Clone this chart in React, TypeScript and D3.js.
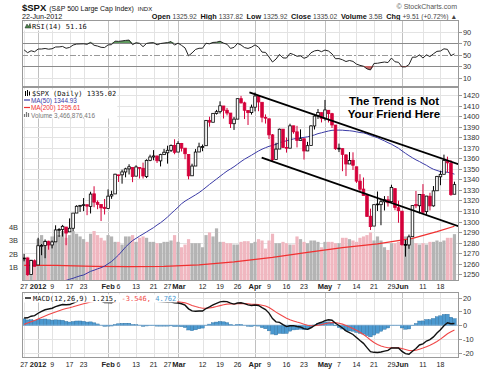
import React, { useEffect, useRef } from "react";
import * as d3 from "d3";

// closes before the visible window, only used to warm up RSI / MACD / MA(50)
const priorCloses = [
  1254.19, 1229.05, 1242.0, 1284.59, 1285.09, 1253.3,
  1218.28, 1237.9, 1261.15, 1253.23, 1261.12, 1275.92, 1229.1, 1239.69, 1263.85, 1251.78, 1257.81,
  1236.91, 1216.13, 1215.65, 1192.98, 1188.04, 1161.79, 1158.67, 1192.55, 1195.19, 1246.96,
  1244.58, 1244.28, 1257.08, 1258.47, 1261.01, 1234.35, 1255.19, 1236.47, 1225.73, 1211.82, 1215.75,
  1219.66, 1205.35, 1241.3, 1243.72, 1254.0, 1265.33,
];

const dates = [
  "12-27", "12-28", "12-29", "12-30",
  "01-03", "01-04", "01-05", "01-06", "01-09", "01-10", "01-11", "01-12", "01-13", "01-17", "01-18", "01-19", "01-20", "01-23", "01-24", "01-25", "01-26", "01-27", "01-30", "01-31",
  "02-01", "02-02", "02-03", "02-06", "02-07", "02-08", "02-09", "02-10", "02-13", "02-14", "02-15", "02-16", "02-17", "02-21", "02-22", "02-23", "02-24", "02-27", "02-28", "02-29",
  "03-01", "03-02", "03-05", "03-06", "03-07", "03-08", "03-09", "03-12", "03-13", "03-14", "03-15", "03-16", "03-19", "03-20", "03-21", "03-22", "03-23", "03-26", "03-27", "03-28", "03-29", "03-30",
  "04-02", "04-03", "04-04", "04-05", "04-09", "04-10", "04-11", "04-12", "04-13", "04-16", "04-17", "04-18", "04-19", "04-20", "04-23", "04-24", "04-25", "04-26", "04-27", "04-30",
  "05-01", "05-02", "05-03", "05-04", "05-07", "05-08", "05-09", "05-10", "05-11", "05-14", "05-15", "05-16", "05-17", "05-18", "05-21", "05-22", "05-23", "05-24", "05-25", "05-29", "05-30", "05-31",
  "06-01", "06-04", "06-05", "06-06", "06-07", "06-08", "06-11", "06-12", "06-13", "06-14", "06-15", "06-18", "06-19", "06-20", "06-21", "06-22",
];

const opens = [
  1265.02, 1265.38, 1249.75, 1262.82,
  1258.86, 1277.03, 1277.3, 1280.93, 1277.83, 1280.77, 1292.02, 1292.48, 1294.82, 1290.22, 1293.65, 1308.07, 1314.49, 1315.29, 1315.96, 1314.4, 1326.28, 1318.25, 1316.16, 1313.53,
  1312.45, 1324.24, 1326.21, 1344.32, 1344.33, 1347.04, 1349.97, 1351.21, 1343.06, 1351.3, 1350.52, 1342.61, 1358.06, 1361.22, 1362.11, 1357.53, 1363.46, 1365.2, 1367.56, 1372.2,
  1365.9, 1374.09, 1369.59, 1363.63, 1343.39, 1352.65, 1365.97, 1370.78, 1371.92, 1395.95, 1394.17, 1402.55, 1404.17, 1409.59, 1405.52, 1402.89, 1392.78, 1397.11, 1416.55, 1412.52, 1405.39, 1403.31,
  1408.47, 1418.98, 1413.09, 1398.79, 1397.45, 1382.18, 1358.98, 1368.77, 1387.61, 1370.27, 1369.57, 1390.78, 1385.08, 1376.96, 1378.53, 1366.97, 1372.11, 1390.64, 1400.19, 1403.26,
  1397.86, 1405.5, 1402.32, 1391.51, 1368.79, 1369.16, 1363.2, 1354.58, 1358.11, 1351.93, 1338.36, 1330.78, 1324.82, 1305.05, 1295.73, 1316.09, 1316.02, 1318.72, 1320.64, 1318.9, 1331.25, 1313.09,
  1309.87, 1278.29, 1277.82, 1285.61, 1316.15, 1314.99, 1325.72, 1309.4, 1324.02, 1314.88, 1329.19, 1342.42, 1344.83, 1358.04, 1355.43, 1325.92,
];

const highs = [
  1269.37, 1265.85, 1263.54, 1264.12,
  1284.62, 1278.73, 1283.05, 1281.84, 1281.99, 1296.46, 1293.8, 1296.82, 1294.82, 1303.0, 1308.11, 1315.49, 1315.38, 1322.28, 1315.96, 1328.3, 1333.47, 1320.06, 1316.16, 1321.41,
  1330.52, 1329.19, 1345.34, 1344.36, 1349.24, 1351.0, 1354.32, 1351.21, 1353.35, 1351.3, 1355.87, 1359.02, 1363.4, 1367.76, 1362.7, 1364.24, 1368.92, 1371.94, 1373.09, 1378.04,
  1376.17, 1374.53, 1369.59, 1363.63, 1354.85, 1368.72, 1374.76, 1373.04, 1396.13, 1399.42, 1402.63, 1405.88, 1414.0, 1409.59, 1407.75, 1402.89, 1399.18, 1416.58, 1419.15, 1413.65, 1405.39, 1410.89,
  1422.38, 1419.0, 1413.09, 1401.6, 1397.45, 1383.01, 1374.71, 1388.13, 1387.61, 1379.66, 1392.76, 1390.78, 1390.75, 1387.4, 1378.53, 1375.57, 1391.37, 1402.09, 1406.64, 1403.26,
  1415.32, 1405.5, 1403.07, 1391.51, 1373.91, 1369.16, 1363.73, 1365.88, 1365.66, 1351.93, 1344.94, 1341.78, 1326.36, 1312.24, 1316.39, 1328.49, 1320.71, 1324.14, 1324.2, 1334.93, 1331.25, 1319.74,
  1309.87, 1282.55, 1287.62, 1315.13, 1329.05, 1325.81, 1335.52, 1324.31, 1327.28, 1333.68, 1343.32, 1348.22, 1363.46, 1361.57, 1358.27, 1337.82,
];

const lows = [
  1262.3, 1248.64, 1249.75, 1257.46,
  1258.86, 1268.1, 1265.26, 1273.34, 1274.55, 1280.77, 1285.41, 1285.77, 1277.58, 1290.22, 1290.99, 1308.07, 1309.17, 1309.89, 1306.06, 1307.65, 1313.6, 1311.72, 1300.49, 1306.69,
  1312.45, 1321.57, 1326.21, 1337.52, 1335.92, 1341.95, 1344.63, 1337.35, 1343.06, 1340.83, 1340.8, 1341.22, 1357.24, 1358.11, 1355.53, 1352.28, 1363.46, 1354.92, 1365.97, 1363.81,
  1365.9, 1366.42, 1359.13, 1340.03, 1343.39, 1352.65, 1365.97, 1366.69, 1371.92, 1389.97, 1394.17, 1401.47, 1402.43, 1397.68, 1400.64, 1388.73, 1386.87, 1397.11, 1411.95, 1397.2, 1391.56, 1401.42,
  1404.46, 1404.62, 1394.09, 1392.92, 1378.24, 1357.38, 1358.98, 1368.77, 1369.85, 1365.38, 1369.57, 1383.29, 1370.3, 1376.96, 1358.79, 1366.82, 1372.11, 1387.28, 1397.31, 1394.0,
  1395.73, 1393.92, 1388.71, 1367.96, 1365.88, 1347.75, 1343.13, 1354.58, 1348.89, 1336.61, 1328.41, 1324.79, 1304.86, 1291.98, 1295.73, 1310.04, 1296.53, 1310.5, 1314.23, 1318.9, 1310.76, 1298.9,
  1277.25, 1266.74, 1274.16, 1285.61, 1312.68, 1307.77, 1307.73, 1306.62, 1310.51, 1314.14, 1329.19, 1334.46, 1344.83, 1346.45, 1324.41, 1325.92,
];

const closes = [
  1265.43, 1249.64, 1263.02, 1257.6,
  1277.06, 1277.3, 1281.06, 1277.81, 1280.7, 1292.08, 1292.48, 1295.5, 1289.09, 1293.67, 1308.04, 1314.5, 1315.38, 1316.0, 1314.65, 1326.06, 1318.43, 1316.33, 1313.01, 1312.41,
  1324.09, 1325.54, 1344.9, 1344.33, 1347.05, 1349.96, 1351.95, 1342.64, 1351.77, 1350.5, 1343.23, 1358.04, 1361.23, 1362.21, 1357.66, 1363.46, 1365.74, 1367.59, 1372.18, 1365.68,
  1374.09, 1369.63, 1364.33, 1343.36, 1352.63, 1365.91, 1370.87, 1371.09, 1395.95, 1394.28, 1402.6, 1404.17, 1409.75, 1405.52, 1402.89, 1392.78, 1397.11, 1416.51, 1412.52, 1405.54, 1403.28, 1408.47,
  1419.04, 1413.38, 1398.96, 1398.08, 1382.2, 1358.59, 1368.71, 1387.57, 1370.26, 1369.57, 1390.78, 1385.14, 1376.92, 1378.53, 1366.94, 1371.97, 1390.69, 1399.98, 1403.36, 1397.91,
  1405.82, 1402.31, 1391.57, 1369.1, 1369.58, 1363.72, 1354.58, 1357.99, 1353.39, 1338.35, 1330.66, 1324.8, 1304.86, 1295.22, 1315.99, 1316.63, 1318.86, 1320.68, 1317.82, 1332.42, 1313.32, 1310.33,
  1278.04, 1278.18, 1285.5, 1315.13, 1314.99, 1325.66, 1308.93, 1324.18, 1314.88, 1329.1, 1342.84, 1344.78, 1357.98, 1355.69, 1325.51, 1335.02,
];

// billions of shares
const volumes = [
  1.7, 1.8, 1.6, 1.5,
  3.1, 3.4, 3.0, 3.0, 3.3, 3.4, 3.4, 3.7, 3.2, 3.4, 3.7, 3.5, 3.3, 3.1, 2.9, 3.5, 3.7, 3.4, 3.2, 3.0,
  3.4, 3.3, 2.9, 2.9, 2.7, 3.3, 3.3, 3.4, 2.9, 3.2, 3.3, 3.2, 2.9, 2.9, 2.8, 2.8, 2.9, 2.9, 3.0, 3.4,
  2.9, 2.5, 2.7, 3.1, 2.8, 2.8, 2.8, 2.5, 3.4, 3.6, 3.3, 3.9, 2.9, 2.9, 2.8, 2.8, 2.7, 2.7, 2.9, 2.95, 2.95, 2.8,
  2.9, 3.1, 3.0, 2.4, 3.0, 3.5, 2.8, 2.8, 2.9, 2.8, 2.7, 2.7, 3.3, 3.1, 2.9, 2.8, 3.0, 3.0, 2.9, 2.5,
  2.9, 2.9, 2.9, 2.8, 2.8, 3.2, 3.2, 3.1, 3.0, 2.9, 3.2, 3.3, 3.4, 3.6, 3.0, 3.3, 3.0, 2.5, 2.3, 2.8, 2.8, 2.9,
  3.3, 3.3, 3.3, 3.2, 2.8, 2.7, 2.8, 2.7, 2.9, 2.9, 3.0, 2.9, 3.0, 3.2, 3.2, 3.47,
];

// MA(200) at a few sessions
const ma200Days = ["12-27", "01-10", "01-26", "02-09", "02-24", "03-09", "03-23", "04-10", "04-24", "05-08", "05-22", "06-06", "06-15", "06-22"];
const ma200Values = [1258.5, 1258.4, 1257.6, 1257.2, 1257.5, 1259.0, 1261.8, 1266.0, 1270.8, 1275.3, 1278.8, 1284.0, 1290.5, 1295.6];

const tickDates = ["12-27", "01-03", "01-09", "01-17", "01-23", "02-01", "02-06", "02-13", "02-21", "02-27", "03-01", "03-12", "03-19", "03-26", "04-02", "04-09", "04-16", "04-23", "05-01", "05-07", "05-14", "05-21", "05-29", "06-01", "06-11", "06-18"];
const tickLabels = ["27", "2012", "9", "17", "23", "Feb", "6", "13", "21", "27", "Mar", "12", "19", "26", "Apr", "9", "16", "23", "May", "7", "14", "21", "29", "Jun", "11", "18"];
const majorTicks = ["2012", "Feb", "Mar", "Apr", "May", "Jun"];

const rsiTicks = [90, 70, 50, 30, 10];
const priceTicks = d3.range(1250, 1421, 10);
const volumeTicks = [1, 2, 3, 4];
const macdTicks = [20, 10, 0, -10, -20];

// trend channel drawn on the chart: [session number, price]
const upperTrend = [[64.4, 1422.5], [124.3, 1354.2]];
const lowerTrend = [[67.9, 1360.6], [124.3, 1295.4]];

const W = 489;
const H = 371;
const LEFT = 22;
const RIGHT = 459;
const rsiBox = { top: 20, bottom: 87 };
const priceBox = { top: 87, bottom: 281 };
const macdBox = { top: 292, bottom: 358 };

const SANS = "'Liberation Sans', Arial, sans-serif";
const MONO = "'DejaVu Sans Mono', monospace";
const RED = "#d4003a";
const GRID = "#e3e3e3";

function ema(values: number[], period: number) {
  const k = 2 / (period + 1);
  let e = values[0];
  return values.map((v, i) => (e = i === 0 ? v : v * k + e * (1 - k)));
}

function rsiSeries(values: number[], period: number) {
  const out = values.map(() => NaN);
  let gain = 0, loss = 0;
  for (let i = 1; i <= period; i++) {
    const d = values[i] - values[i - 1];
    if (d > 0) gain += d; else loss -= d;
  }
  gain /= period;
  loss /= period;
  out[period] = 100 - 100 / (1 + gain / loss);
  for (let i = period + 1; i < values.length; i++) {
    const d = values[i] - values[i - 1];
    gain = (gain * (period - 1) + Math.max(d, 0)) / period;
    loss = (loss * (period - 1) + Math.max(-d, 0)) / period;
    out[i] = 100 - 100 / (1 + gain / loss);
  }
  return out;
}

function panel(svg: any, id: string, box: { top: number; bottom: number }) {
  svg.append("clipPath").attr("id", id)
    .append("rect")
    .attr("x", LEFT).attr("y", box.top)
    .attr("width", RIGHT - LEFT).attr("height", box.bottom - box.top);
  svg.append("rect")
    .attr("x", LEFT).attr("y", box.top)
    .attr("width", RIGHT - LEFT).attr("height", box.bottom - box.top)
    .attr("fill", "#fff");
  return svg.append("g").attr("clip-path", `url(#${id})`);
}

function border(svg: any, box: { top: number; bottom: number }) {
  svg.append("rect")
    .attr("x", LEFT + 0.5).attr("y", box.top + 0.5)
    .attr("width", RIGHT - LEFT - 1).attr("height", box.bottom - box.top - 1)
    .attr("fill", "none").attr("stroke", "#999");
}

function verticalGrid(g: any, x: any, box: { top: number; bottom: number }) {
  tickDates.forEach((d, k) => {
    const xx = Math.round(x(dates.indexOf(d))) + 0.5;
    g.append("line")
      .attr("x1", xx).attr("x2", xx)
      .attr("y1", box.top).attr("y2", box.bottom)
      .attr("stroke", majorTicks.includes(tickLabels[k]) ? "#c0c0c0" : GRID);
  });
}

function horizontalGrid(g: any, y: any, ticks: number[], color = GRID) {
  ticks.forEach(t => {
    const yy = Math.round(y(t)) + 0.5;
    g.append("line").attr("x1", LEFT).attr("x2", RIGHT)
      .attr("y1", yy).attr("y2", yy).attr("stroke", color);
  });
}

function rightAxis(svg: any, y: any, ticks: number[]) {
  ticks.forEach(t => {
    const yy = Math.round(y(t)) + 0.5;
    svg.append("line").attr("x1", RIGHT).attr("x2", RIGHT + 3)
      .attr("y1", yy).attr("y2", yy).attr("stroke", "#999");
    svg.append("text").attr("x", RIGHT + 4).attr("y", yy + 2.6)
      .attr("font-family", SANS).attr("font-size", 7.4).attr("fill", "#333")
      .text(t);
  });
}

function dateAxis(svg: any, x: any, baseline: number) {
  tickDates.forEach((d, k) => {
    const bold = majorTicks.includes(tickLabels[k]);
    svg.append("text")
      .attr("x", x(dates.indexOf(d)) + (tickLabels[k] === "Mar" ? 1 : 0))
      .attr("y", baseline)
      .attr("text-anchor", "middle")
      .attr("font-family", SANS).attr("font-size", bold ? 7.5 : 7)
      .attr("font-weight", bold ? "bold" : "normal")
      .attr("fill", "#222")
      .text(tickLabels[k]);
  });
}

function legendBackground(g: any) {
  const b = g.node().getBBox();
  g.insert("rect", ":first-child")
    .attr("x", b.x - 1).attr("y", b.y)
    .attr("width", b.width + 2).attr("height", b.height)
    .attr("fill", "#fff");
}

function drawHeader(svg: any) {
  const head = svg.append("text").attr("x", LEFT).attr("y", 11).attr("font-family", SANS).attr("fill", "#111");
  head.append("tspan").attr("font-size", 9.5).attr("font-weight", "bold").text("$SPX");
  head.append("tspan").attr("font-size", 6.9).attr("dx", 3).text("(S&P 500 Large Cap Index)");
  head.append("tspan").attr("font-size", 6).attr("dx", 4).text("INDX");

  svg.append("text").attr("x", RIGHT - 2).attr("y", 9).attr("text-anchor", "end")
    .attr("font-family", SANS).attr("font-size", 7).attr("fill", "#555")
    .text("© StockCharts.com");

  svg.append("text").attr("x", LEFT).attr("y", 18.5)
    .attr("font-family", SANS).attr("font-size", 7.2).attr("fill", "#111")
    .text("22-Jun-2012");

  const parts: [string, boolean][] = [
    ["Open ", true], ["1325.92  ", false], ["High ", true], ["1337.82  ", false],
    ["Low ", true], ["1325.92  ", false], ["Close ", true], ["1335.02  ", false],
    ["Volume ", true], ["3.5B  ", false], ["Chg ", true], ["+9.51 (+0.72%) ▲", false],
  ];
  const info = svg.append("text").attr("x", RIGHT - 2).attr("y", 18.5).attr("text-anchor", "end")
    .attr("font-family", SANS).attr("fill", "#111").attr("xml:space", "preserve");
  parts.forEach(([s, b]) => {
    info.append("tspan").attr("font-size", b ? 7.3 : 6.7).attr("font-weight", b ? "bold" : "normal")
      .attr("fill", b ? "#111" : "#444").text(s);
  });
}

function draw(node: SVGSVGElement) {
  const svg = d3.select(node);
  svg.selectAll("*").remove();
  const n = closes.length;
  const at = (d: string) => dates.indexOf(d);

  const x = d3.scaleLinear().domain([-0.6, n + 0.3]).range([LEFT, RIGHT]);
  const yRsi = d3.scaleLinear().domain([0, 100]).range([83.3, 25.8]);
  const yPrice = d3.scaleLinear().domain([1250, 1420]).range([274.3, 95]);
  const yVol = d3.scaleLinear().domain([0, 4]).range([priceBox.bottom, priceBox.bottom - 54]);
  const yMacd = d3.scaleLinear().domain([-20, 20]).range([352.7, 297.7]);

  const all = priorCloses.concat(closes);
  const off = priorCloses.length;
  const rsi = rsiSeries(all, 14).slice(off);
  const ma50 = all.map((_, i) => (i >= 49 ? d3.mean(all.slice(i - 49, i + 1)) as number : NaN)).slice(off);
  const e12 = ema(all, 12);
  const e26 = ema(all, 26);
  const macdAll = all.map((_, i) => e12[i] - e26[i]);
  const signalAll = ema(macdAll, 9);
  const macd = macdAll.slice(off);
  const signal = signalAll.slice(off);
  const hist = macd.map((m, i) => m - signal[i]);
  const idx = d3.range(n);

  drawHeader(svg);

  // ---- RSI panel
  const rg = panel(svg, "clip-rsi", rsiBox);
  verticalGrid(rg, x, rsiBox);
  horizontalGrid(rg, yRsi, [90, 10]);
  horizontalGrid(rg, yRsi, [70, 30], "#8a8a8a");
  rg.append("line").attr("x1", LEFT).attr("x2", RIGHT)
    .attr("y1", Math.round(yRsi(50)) + 0.5).attr("y2", Math.round(yRsi(50)) + 0.5)
    .attr("stroke", "#999").attr("stroke-dasharray", "6,2,2,2");
  rg.append("path").datum(idx)
    .attr("fill", "#5f9a5f")
    .attr("d", d3.area<number>().x(i => x(i)).y0(yRsi(70)).y1(i => yRsi(Math.max(rsi[i], 70))));
  rg.append("path").datum(idx)
    .attr("fill", "#c46464")
    .attr("d", d3.area<number>().x(i => x(i)).y0(yRsi(30)).y1(i => yRsi(Math.min(rsi[i], 30))));
  rg.append("path").datum(idx)
    .attr("fill", "none").attr("stroke", "#222").attr("stroke-width", 1)
    .attr("d", d3.line<number>().x(i => x(i)).y(i => yRsi(rsi[i])));
  border(svg, rsiBox);
  rightAxis(svg, yRsi, rsiTicks);
  const rl = svg.append("g");
  rl.append("path").attr("d", "M25,28 L27,24 L28.5,26.5 L30,23.5 L31,28 Z").attr("fill", "#4d8a4d").attr("stroke", "#222").attr("stroke-width", 0.5);
  rl.append("text").attr("x", 32).attr("y", 28.5)
    .attr("font-family", MONO).attr("font-size", 7).attr("fill", "#111")
    .text("RSI(14) 51.16");
  legendBackground(rl);

  // ---- price panel
  const pg = panel(svg, "clip-price", priceBox);
  verticalGrid(pg, x, priceBox);
  horizontalGrid(pg, yPrice, priceTicks);

  pg.append("g").selectAll("rect").data(idx).enter().append("rect")
    .attr("x", i => x(i) - 1.6).attr("width", 3.2)
    .attr("y", i => yVol(volumes[i]))
    .attr("height", i => yVol(0) - yVol(volumes[i]))
    .attr("fill", i => (i > 0 && closes[i] < closes[i - 1] ? "#f0b7c0" : "#b4b4b4"));

  pg.append("path").datum(ma200Days.map((d, k) => [at(d), ma200Values[k]]))
    .attr("fill", "none").attr("stroke", "#f03030").attr("stroke-width", 1.2)
    .attr("d", d3.line<number[]>().x(p => x(p[0])).y(p => yPrice(p[1])));
  pg.append("path").datum(idx.filter(i => !isNaN(ma50[i])))
    .attr("fill", "none").attr("stroke", "#3a3aa6").attr("stroke-width", 1)
    .attr("d", d3.line<number>().x(i => x(i)).y(i => yPrice(ma50[i])));

  const candle = pg.append("g").selectAll("g").data(idx).enter().append("g");
  const color = (i: number) => (i > 0 && closes[i] < closes[i - 1] ? RED : "#000");
  candle.append("line")
    .attr("x1", i => x(i)).attr("x2", i => x(i))
    .attr("y1", i => yPrice(highs[i])).attr("y2", i => yPrice(lows[i]))
    .attr("stroke", color).attr("stroke-width", 1);
  candle.append("rect")
    .attr("x", i => x(i) - 1.3).attr("width", 2.6)
    .attr("y", i => yPrice(Math.max(opens[i], closes[i])))
    .attr("height", i => Math.max(0.8, Math.abs(yPrice(opens[i]) - yPrice(closes[i]))))
    .attr("fill", i => (closes[i] >= opens[i] ? "#fff" : color(i)))
    .attr("stroke", color).attr("stroke-width", 0.8);

  [upperTrend, lowerTrend].forEach(t => {
    pg.append("path").datum(t)
      .attr("fill", "none").attr("stroke", "#000").attr("stroke-width", 1.8)
      .attr("d", d3.line<number[]>().x(p => x(p[0])).y(p => yPrice(p[1])));
  });

  const note = pg.append("text").attr("text-anchor", "middle")
    .attr("font-family", SANS).attr("font-size", 11.5).attr("font-weight", "bold").attr("fill", "#000");
  note.append("tspan").attr("x", 394).attr("y", 104.5).text("The Trend is Not");
  note.append("tspan").attr("x", 394).attr("y", 117.5).text("Your Friend Here");

  border(svg, priceBox);
  rightAxis(svg, yPrice, priceTicks);
  volumeTicks.forEach(v => {
    svg.append("text").attr("x", 9).attr("y", yVol(v) + 2.6)
      .attr("font-family", SANS).attr("font-size", 7.4).attr("fill", "#333")
      .text(`${v}B`);
  });

  const pl = svg.append("g");
  pl.append("path").attr("d", "M25.5,91 v5 M27.5,90 v6 M29.5,91.5 v4").attr("stroke", "#000").attr("stroke-width", 1);
  pl.append("text").attr("x", 32).attr("y", 95.5)
    .attr("font-family", MONO).attr("font-size", 7).attr("fill", "#111").text("$SPX (Daily) 1335.02");
  pl.append("line").attr("x1", 24).attr("x2", 30).attr("y1", 100).attr("y2", 100).attr("stroke", "#3a3aa6").attr("stroke-width", 1.2);
  pl.append("text").attr("x", 31).attr("y", 102.5)
    .attr("font-family", SANS).attr("font-size", 6.4).attr("fill", "#3a3aa6").text("MA(50) 1344.93");
  pl.append("line").attr("x1", 24).attr("x2", 30).attr("y1", 107.5).attr("y2", 107.5).attr("stroke", "#f03030").attr("stroke-width", 1.2);
  pl.append("text").attr("x", 31).attr("y", 110)
    .attr("font-family", SANS).attr("font-size", 6.4).attr("fill", "#f03030").text("MA(200) 1295.61");
  pl.append("path").attr("d", "M24.5,117 v-3 M26.5,117 v-5 M28.5,117 v-4").attr("stroke", "#777").attr("stroke-width", 1.2);
  pl.append("text").attr("x", 31).attr("y", 117.5)
    .attr("font-family", SANS).attr("font-size", 6.4).attr("fill", "#777").text("Volume 3,466,876,416");
  legendBackground(pl);

  dateAxis(svg, x, 289);

  // ---- MACD panel
  const mg = panel(svg, "clip-macd", macdBox);
  verticalGrid(mg, x, macdBox);
  horizontalGrid(mg, yMacd, macdTicks);
  mg.append("g").selectAll("rect").data(idx).enter().append("rect")
    .attr("x", i => x(i) - 1.75).attr("width", 3.5)
    .attr("y", i => yMacd(Math.max(hist[i], 0)))
    .attr("height", i => Math.abs(yMacd(hist[i]) - yMacd(0)))
    .attr("fill", "#4b99d0").attr("stroke", "#2f6f9f").attr("stroke-width", 0.4);
  mg.append("line").attr("x1", LEFT).attr("x2", RIGHT)
    .attr("y1", yMacd(0)).attr("y2", yMacd(0)).attr("stroke", "#8ab8dc").attr("stroke-width", 0.8);
  mg.append("path").datum(idx)
    .attr("fill", "none").attr("stroke", "#f04848").attr("stroke-width", 1.1)
    .attr("d", d3.line<number>().x(i => x(i)).y(i => yMacd(signal[i])));
  mg.append("path").datum(idx)
    .attr("fill", "none").attr("stroke", "#111").attr("stroke-width", 1.4)
    .attr("d", d3.line<number>().x(i => x(i)).y(i => yMacd(macd[i])));
  border(svg, macdBox);
  rightAxis(svg, yMacd, macdTicks);

  const ml = svg.append("g");
  ml.append("line").attr("x1", 25).attr("x2", 31).attr("y1", 298).attr("y2", 298).attr("stroke", "#000").attr("stroke-width", 1.4);
  const mt = ml.append("text").attr("x", 33).attr("y", 300.5).attr("font-family", MONO).attr("font-size", 7);
  mt.append("tspan").attr("fill", "#111").text("MACD(12,26,9) 1.215,");
  mt.append("tspan").attr("fill", "#f04848").text(" -3.546,");
  mt.append("tspan").attr("fill", "#4b99d0").text(" 4.762");
  legendBackground(ml);

  dateAxis(svg, x, 367);
}

export default function App() {
  const ref = useRef<SVGSVGElement>(null);

  useEffect(() => {
    if (ref.current) draw(ref.current);
  }, []);

  return (
    <div style={{ position: "absolute", left: 0, top: 0 }}>
      <svg ref={ref} width={W} height={H} style={{ display: "block", background: "#fff" }} />
    </div>
  );
}
